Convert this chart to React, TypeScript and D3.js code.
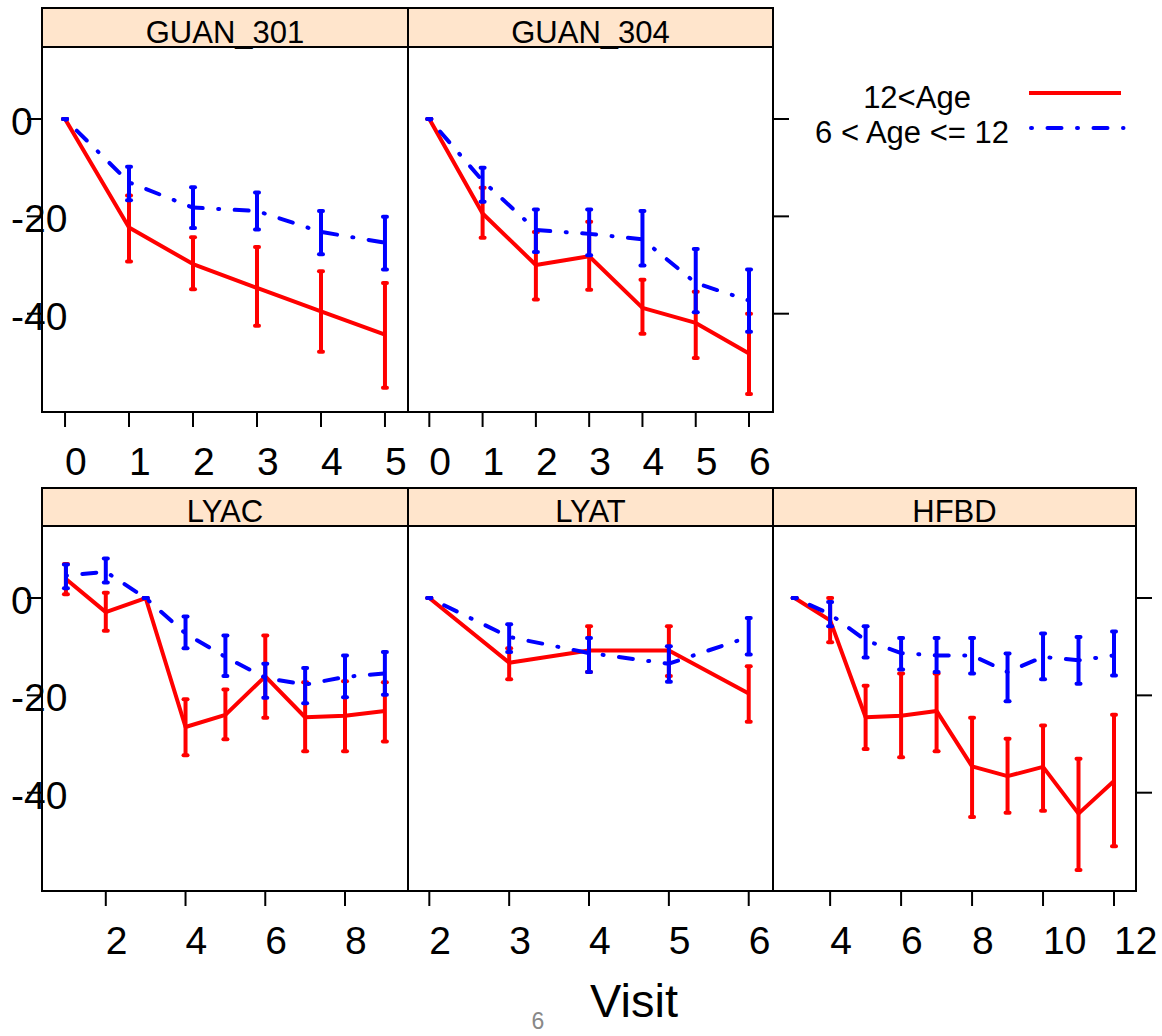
import React from "react";
import * as d3 from "d3";

// ---------- data ----------
const seriesLabels = ["12<Age", "6 < Age <= 12"];
const panelNames = ["GUAN_301", "GUAN_304", "LYAC", "LYAT", "HFBD"];
const yTicks = [0, -20, -40];

const guan301Visits = [0, 1, 2, 3, 4, 5];
const guan301Older = [0, -22.3, -29.8, -34.7, -39.5, -44.3];
const guan301OlderLo = [0, -29.3, -35.0, -42.5, -47.8, -55.2];
const guan301OlderHi = [0, -15.7, -24.3, -26.3, -31.3, -33.7];
const guan301Younger = [0, -13.0, -18.2, -18.9, -23.2, -25.4];
const guan301YoungerLo = [0, -16.7, -22.4, -22.7, -27.8, -30.9];
const guan301YoungerHi = [0, -9.8, -14.0, -15.1, -18.9, -20.1];

const guan304Visits = [0, 1, 2, 3, 4, 5, 6];
const guan304Older = [0, -19.4, -30.0, -28.2, -38.8, -41.9, -48.2];
const guan304OlderLo = [0, -24.4, -37.1, -35.1, -44.1, -49.1, -56.5];
const guan304OlderHi = [0, -14.1, -23.2, -21.1, -33.0, -35.5, -40.0];
const guan304Younger = [0, -12.7, -22.8, -23.6, -24.7, -33.7, -37.3];
const guan304YoungerLo = [0, -17.0, -27.3, -28.0, -30.1, -39.7, -43.7];
const guan304YoungerHi = [0, -10.0, -18.6, -18.6, -18.9, -26.7, -30.9];

const lyacVisits = [1, 2, 3, 4, 5, 6, 7, 8, 9];
const lyacOlder = [3.9, -2.9, 0, -26.5, -24.0, -16.1, -24.5, -24.2, -23.2];
const lyacOlderLo = [0.8, -6.7, 0, -32.3, -29.0, -24.6, -31.5, -31.5, -29.5];
const lyacOlderHi = [7.0, 1.1, 0, -20.8, -18.8, -7.7, -17.3, -17.1, -17.3];
const lyacYounger = [4.6, 5.4, 0, -7.3, -12.1, -16.4, -17.8, -16.2, -15.5];
const lyacYoungerLo = [2.0, 3.2, 0, -10.3, -16.0, -20.5, -21.6, -20.4, -19.9];
const lyacYoungerHi = [6.9, 8.1, 0, -3.8, -7.7, -13.5, -14.4, -11.8, -11.1];

const lyatVisits = [2, 3, 4, 5, 6];
const lyatOlder = [0, -13.3, -10.8, -10.8, -19.6];
const lyatOlderLo = [0, -16.7, -15.2, -16.0, -25.4];
const lyatOlderHi = [0, -10.3, -5.8, -5.8, -14.0];
const lyatYounger = [0, -8.0, -11.3, -13.5, -8.0];
const lyatYoungerLo = [0, -11.1, -15.2, -17.2, -11.6];
const lyatYoungerHi = [0, -5.4, -8.2, -9.9, -4.1];

const hfbdVisits = [3, 4, 5, 6, 7, 8, 9, 10, 11, 12];
const hfbdOlder = [0, -4.6, -24.5, -24.2, -23.2, -34.6, -36.6, -34.7, -44.3, -37.6];
const hfbdOlderLo = [0, -9.1, -31.0, -32.7, -31.5, -45.0, -44.1, -43.7, -55.9, -51.0];
const hfbdOlderHi = [0, 0.0, -18.0, -15.5, -15.5, -24.6, -28.9, -26.2, -33.0, -24.0];
const hfbdYounger = [0, -3.3, -8.7, -11.3, -11.8, -11.8, -15.2, -12.1, -12.8, -11.8];
const hfbdYoungerLo = [0, -5.8, -12.2, -14.7, -15.2, -15.5, -21.2, -16.7, -17.6, -15.9];
const hfbdYoungerHi = [0, -0.8, -5.8, -8.2, -8.2, -8.2, -11.4, -7.3, -8.0, -6.9];

const guan301Ticks = [0, 1, 2, 3, 4, 5];
const guan304Ticks = [0, 1, 2, 3, 4, 5, 6];
const lyacTicks = [2, 4, 6, 8];
const lyatTicks = [2, 3, 4, 5, 6];
const hfbdTicks = [4, 6, 8, 10, 12];

// ---------- layout ----------
const FONT = "'Liberation Sans', Arial, Helvetica, sans-serif";
const RED = "#FF0000";
const BLUE = "#0000FF";
const STRIP = "#FFE5CC";
const Y_DOMAIN: [number, number] = [-60.2, 14.8];
const DASH = "1 15.5 14 15.5";

type Panel = {
  name: string;
  visits: number[];
  older: number[]; olderLo: number[]; olderHi: number[];
  younger: number[]; youngerLo: number[]; youngerHi: number[];
  ticks: number[];
  xDomain: [number, number];
  x0: number; x1: number; top: number; bottom: number; stripTop: number;
  leftAxis: boolean; rightAxis: boolean;
};

const panels: Panel[] = [
  { name: panelNames[0], visits: guan301Visits, older: guan301Older, olderLo: guan301OlderLo, olderHi: guan301OlderHi,
    younger: guan301Younger, youngerLo: guan301YoungerLo, youngerHi: guan301YoungerHi, ticks: guan301Ticks,
    xDomain: [-0.36, 5.36], x0: 42, x1: 408, top: 47, bottom: 412, stripTop: 8, leftAxis: true, rightAxis: false },
  { name: panelNames[1], visits: guan304Visits, older: guan304Older, olderLo: guan304OlderLo, olderHi: guan304OlderHi,
    younger: guan304Younger, youngerLo: guan304YoungerLo, youngerHi: guan304YoungerHi, ticks: guan304Ticks,
    xDomain: [-0.4, 6.45], x0: 408, x1: 773, top: 47, bottom: 412, stripTop: 8, leftAxis: false, rightAxis: true },
  { name: panelNames[2], visits: lyacVisits, older: lyacOlder, olderLo: lyacOlderLo, olderHi: lyacOlderHi,
    younger: lyacYounger, youngerLo: lyacYoungerLo, youngerHi: lyacYoungerHi, ticks: lyacTicks,
    xDomain: [0.4, 9.58], x0: 42, x1: 408, top: 526, bottom: 891, stripTop: 488, leftAxis: true, rightAxis: false },
  { name: panelNames[3], visits: lyatVisits, older: lyatOlder, olderLo: lyatOlderLo, olderHi: lyatOlderHi,
    younger: lyatYounger, youngerLo: lyatYoungerLo, youngerHi: lyatYoungerHi, ticks: lyatTicks,
    xDomain: [1.733, 6.304], x0: 408, x1: 773, top: 526, bottom: 891, stripTop: 488, leftAxis: false, rightAxis: false },
  { name: panelNames[4], visits: hfbdVisits, older: hfbdOlder, olderLo: hfbdOlderLo, olderHi: hfbdOlderHi,
    younger: hfbdYounger, youngerLo: hfbdYoungerLo, youngerHi: hfbdYoungerHi, ticks: hfbdTicks,
    xDomain: [2.39, 12.62], x0: 773, x1: 1136, top: 526, bottom: 891, stripTop: 488, leftAxis: false, rightAxis: true },
];

function Series({ xs, ys, lo, hi, x, y, color, dash }: any) {
  const line = d3.line<number>().x((_, i) => x(xs[i])).y((v) => y(v));
  return (
    <g>
      <path d={line(ys) || ""} fill="none" stroke={color} strokeWidth={4}
        strokeDasharray={dash} strokeLinecap={dash ? "round" : "butt"} strokeLinejoin="round" />
      {xs.map((v: number, i: number) => (
        <g key={i} stroke={color} strokeWidth={4} strokeLinecap="round">
          <line x1={x(v)} x2={x(v)} y1={y(lo[i])} y2={y(hi[i])} strokeLinecap="butt" />
          <line x1={x(v) - 2} x2={x(v) + 2} y1={y(lo[i])} y2={y(lo[i])} />
          <line x1={x(v) - 2} x2={x(v) + 2} y1={y(hi[i])} y2={y(hi[i])} />
        </g>
      ))}
    </g>
  );
}

function PanelView({ p }: { p: Panel }) {
  const x = d3.scaleLinear().domain(p.xDomain).range([p.x0, p.x1]);
  const y = d3.scaleLinear().domain(Y_DOMAIN).range([p.bottom, p.top]);
  const cx = (p.x0 + p.x1) / 2;
  return (
    <g>
      <rect x={p.x0} y={p.stripTop} width={p.x1 - p.x0} height={p.top - p.stripTop} fill={STRIP} stroke="#000" strokeWidth={2} />
      <text x={cx} y={p.top - 4} textAnchor="middle" fontSize={31} fontFamily={FONT}>{p.name}</text>
      <Series xs={p.visits} ys={p.older} lo={p.olderLo} hi={p.olderHi} x={x} y={y} color={RED} />
      <Series xs={p.visits} ys={p.younger} lo={p.youngerLo} hi={p.youngerHi} x={x} y={y} color={BLUE} dash={DASH} />
      <rect x={p.x0} y={p.top} width={p.x1 - p.x0} height={p.bottom - p.top} fill="none" stroke="#000" strokeWidth={2} />
      {p.ticks.map((t) => (
        <g key={t}>
          <line x1={x(t)} x2={x(t)} y1={p.bottom} y2={p.bottom + 15} stroke="#000" strokeWidth={2} />
          <text x={x(t)} y={p.bottom + 62.5} fontSize={39} fontFamily={FONT}>{t}</text>
        </g>
      ))}
      {p.leftAxis && yTicks.map((t) => (
        <g key={t}>
          <line x1={p.x0 - 15} x2={p.x0} y1={y(t)} y2={y(t)} stroke="#000" strokeWidth={2} />
          <text x={11} y={y(t) + 16} fontSize={39} fontFamily={FONT}>{t}</text>
        </g>
      ))}
      {p.rightAxis && yTicks.map((t) => (
        <line key={t} x1={p.x1} x2={p.x1 + 16} y1={y(t)} y2={y(t)} stroke="#000" strokeWidth={2} />
      ))}
    </g>
  );
}

export default function App() {
  return (
    <svg width={1162} height={1036} style={{ position: "absolute", left: 0, top: 0, display: "block", background: "#fff" }}>
      <rect width={1162} height={1036} fill="#fff" />
      {panels.map((p) => <PanelView key={p.name} p={p} />)}
      {/* legend */}
      <text x={917} y={108} textAnchor="middle" fontSize={31} fontFamily={FONT}>{seriesLabels[0]}</text>
      <text x={912} y={143} textAnchor="middle" fontSize={31} fontFamily={FONT}>{seriesLabels[1]}</text>
      <line x1={1029} x2={1121} y1={93} y2={93} stroke={RED} strokeWidth={4} />
      <line x1={1031} x2={1123.5} y1={128} y2={128} stroke={BLUE} strokeWidth={4} strokeDasharray={DASH} strokeLinecap="round" />
      <text x={590} y={1017} fontSize={47} fontFamily={FONT}>Visit</text>
      <text x={538} y={1029} textAnchor="middle" fontSize={23} fill="#888" fontFamily={FONT}>6</text>
    </svg>
  );
}
